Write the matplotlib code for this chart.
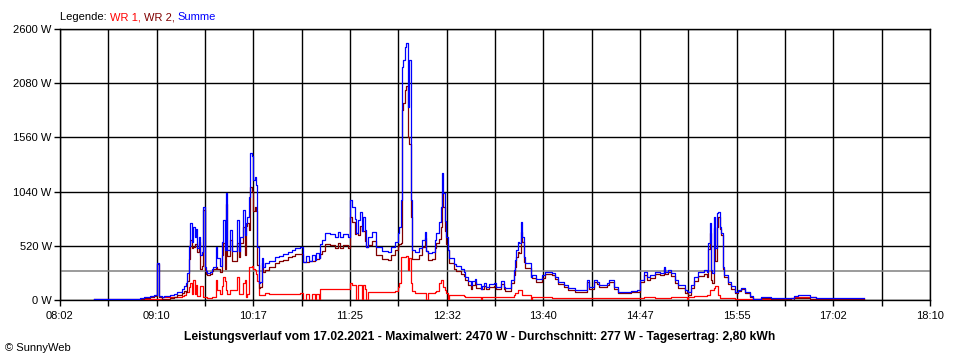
import matplotlib.pyplot as plt
import numpy as np

plt.rcParams['font.family'] = ['Liberation Sans', 'DejaVu Sans']

zeit = ['08:26', '08:40', '08:51', '08:58', '09:01', '09:05', '09:08', '09:10', '09:11', '09:13',
        '09:15', '09:19', '09:22', '09:24', '09:27', '09:29', '09:30', '09:31', '09:32', '09:33',
        '09:34', '09:35', '09:36', '09:37', '09:38', '09:39', '09:40', '09:41', '09:42', '09:43',
        '09:44', '09:45', '09:47', '09:48', '09:49', '09:51', '09:52', '09:54', '09:55', '09:56',
        '09:57', '09:58', '09:59',
        '10:01', '10:02', '10:06', '10:07', '10:08', '10:10', '10:11', '10:12', '10:13', '10:14',
        '10:15', '10:16', '10:17', '10:18', '10:19', '10:20', '10:21', '10:22', '10:23', '10:24',
        '10:25', '10:28', '10:32', '10:35', '10:38', '10:41', '10:44', '10:46', '10:50', '10:52',
        '10:54', '10:56', '10:58',
        '11:00', '11:01', '11:03', '11:04', '11:05', '11:07', '11:11', '11:14', '11:16', '11:18',
        '11:20', '11:23', '11:25', '11:26', '11:28', '11:29', '11:30', '11:32', '11:33', '11:34',
        '11:35', '11:36', '11:37', '11:40', '11:43', '11:47', '11:51', '11:53', '11:56', '11:58',
        '11:59',
        '12:00', '12:01', '12:02', '12:03', '12:04', '12:05', '12:06', '12:07', '12:08', '12:10',
        '12:13', '12:15', '12:17', '12:18', '12:19', '12:22', '12:24', '12:25', '12:27', '12:28',
        '12:29', '12:30', '12:31', '12:32', '12:33', '12:34', '12:37', '12:39', '12:42', '12:44',
        '12:45', '12:47', '12:49', '12:50', '12:52', '12:53', '12:56', '12:57', '12:58',
        '13:00', '13:02', '13:05', '13:07', '13:10', '13:12', '13:13', '13:17', '13:19', '13:20',
        '13:21', '13:22', '13:23', '13:24', '13:25', '13:26', '13:27', '13:31', '13:32', '13:35',
        '13:39', '13:41', '13:46', '13:48', '13:50', '13:54', '13:57',
        '14:02', '14:10', '14:12', '14:15', '14:17', '14:19', '14:24', '14:26', '14:29', '14:32',
        '14:41', '14:45', '14:47', '14:50', '14:52', '14:54', '14:58',
        '15:01', '15:04', '15:05', '15:07', '15:09', '15:12', '15:14', '15:19', '15:20', '15:21',
        '15:23', '15:25', '15:28', '15:32', '15:34', '15:35', '15:36', '15:37', '15:38', '15:39',
        '15:40', '15:41', '15:42', '15:43', '15:44', '15:45', '15:46', '15:49', '15:51', '15:54',
        '15:56', '15:58',
        '16:01', '16:04', '16:06', '16:12', '16:19', '16:33', '16:35', '16:38', '16:46', '16:50',
        '17:23', '17:24']

summe = [5, 5, 8, 15, 25, 35, 45, 355, 40, 30,
         35, 45, 60, 80, 110, 130, 160, 260, 520, 740,
         560, 700, 600, 680, 500, 600, 430, 460, 895, 320,
         280, 260, 270, 300, 320, 510, 400, 330, 560, 767,
         480, 1025, 480,
         672, 470, 767, 470, 607, 863, 620, 736, 800, 991,
         1407, 1380, 1150, 1180, 1100, 512, 160, 176, 400, 320,
         355, 370, 410, 425, 440, 463, 480, 497, 510, 365,
         420, 370, 430,
         380, 450, 400, 540, 575, 640, 630, 600, 650, 600,
         630, 600, 960, 895, 780, 640, 767, 847, 660, 800,
         672, 510, 605, 650, 512, 470, 460, 510, 560, 640,
         700,
         960, 2240, 2300, 2430, 2470, 1855, 2300, 960, 480, 460,
         500, 575, 655, 470, 448, 460, 580, 640, 750, 895,
         1215, 1025, 760, 600, 480, 400, 345, 330, 300, 270,
         224, 180, 140, 180, 200, 150, 110, 130, 160,
         128, 150, 160, 128, 180, 128, 112, 192, 288, 380,
         480, 560, 545, 750, 600, 410, 352, 224, 240, 200,
         240, 272, 256, 224, 176, 144, 112,
         100, 192, 128, 192, 176, 144, 160, 192, 128, 80,
         90, 96, 192, 272, 224, 240, 272,
         256, 320, 272, 288, 256, 192, 144, 96, 85, 80,
         144, 220, 272, 288, 272, 544, 736, 288, 260, 800,
         500, 832, 848, 700, 640, 320, 240, 176, 130, 80,
         96, 112,
         80, 35, 10, 26, 15, 20, 40, 48, 30, 15,
         15, 15]

wr1 = [0, 0, 0, 5, 5, 8, 10, 10, 10, 25,
       25, 25, 30, 30, 40, 45, 80, 80, 128, 160,
       60, 190, 60, 140, 40, 40, 130, 130, 32, 32,
       30, 20, 20, 25, 25, 190, 100, 60, 130, 224,
       180, 100, 60,
       100, 100, 224, 60, 60, 160, 190, 30, 60, 320,
       320, 330, 300, 290, 250, 180, 48, 48, 48, 48,
       64, 55, 55, 55, 55, 55, 55, 55, 70, 0,
       55, 0, 55,
       0, 55, 0, 103, 103, 103, 103, 103, 103, 103,
       103, 103, 160, 145, 145, 0, 145, 140, 0, 140,
       110, 0, 80, 80, 80, 80, 80, 80, 85, 120,
       160,
       415, 415, 410, 415, 420, 288, 400, 160, 85, 64,
       64, 64, 64, 0, 64, 70, 80, 90, 160, 192,
       192, 128, 100, 64, 0, 48, 48, 48, 48, 40,
       32, 32, 32, 32, 32, 32, 5, 25, 25,
       25, 25, 25, 25, 25, 25, 30, 30, 50, 64,
       64, 96, 96, 96, 45, 45, 45, 0, 26, 26,
       26, 26, 20, 20, 20, 20, 20,
       20, 20, 20, 20, 20, 20, 20, 20, 20, 15,
       15, 15, 15, 30, 30, 30, 20,
       20, 20, 20, 20, 30, 30, 30, 30, 5, 30,
       30, 40, 40, 40, 50, 50, 96, 96, 96, 112,
       130, 130, 50, 20, 20, 20, 20, 20, 20, 10,
       10, 10,
       10, 10, 5, 5, 5, 20, 25, 25, 25, 5,
       5, 5]

wr2 = [5, 5, 8, 10, 20, 27, 35, 345, 30, 5,
       10, 20, 30, 50, 70, 85, 80, 180, 392, 580,
       500, 510, 540, 540, 460, 560, 300, 330, 863, 288,
       250, 240, 250, 275, 295, 320, 300, 270, 430, 543,
       300, 925, 420,
       572, 370, 543, 410, 547, 703, 430, 706, 740, 671,
       1087, 1050, 850, 890, 850, 332, 112, 128, 352, 272,
       291, 315, 355, 370, 385, 408, 425, 442, 440, 365,
       365, 370, 375,
       380, 395, 400, 437, 472, 537, 527, 497, 547, 497,
       527, 497, 800, 750, 635, 640, 622, 707, 660, 660,
       562, 510, 525, 570, 432, 390, 380, 430, 475, 520,
       540,
       545, 1825, 1890, 2015, 2050, 1567, 1500, 800, 395, 396,
       436, 511, 591, 470, 384, 390, 500, 550, 590, 703,
       1023, 897, 660, 536, 480, 352, 297, 282, 252, 230,
       192, 148, 108, 148, 168, 118, 105, 105, 135,
       103, 125, 135, 103, 155, 103, 82, 162, 238, 316,
       416, 464, 449, 654, 555, 365, 307, 224, 214, 174,
       214, 246, 236, 204, 156, 124, 92,
       80, 172, 108, 172, 156, 124, 140, 172, 108, 65,
       75, 81, 177, 242, 194, 210, 252,
       236, 300, 252, 268, 226, 162, 114, 66, 80, 50,
       114, 180, 232, 248, 222, 494, 640, 192, 164, 688,
       370, 702, 798, 680, 620, 300, 220, 156, 110, 70,
       86, 102,
       70, 25, 5, 21, 10, 0, 15, 23, 5, 10,
       10, 10]

x_labels = ['08:02', '09:10', '10:17', '11:25', '12:32', '13:40', '14:47', '15:55', '17:02', '18:10']
y_ticks = [0, 520, 1040, 1560, 2080, 2600]
durchschnitt = 277


def minuten(t):
    h, m = t.split(':')
    return int(h) * 60 + int(m)


t = np.array([minuten(z) for z in zeit])
t0, t1 = minuten(x_labels[0]), minuten(x_labels[-1])

fig = plt.figure(figsize=(9.6, 3.6), dpi=100)
ax = fig.add_axes([60 / 960, 60 / 360, 870 / 960, 271 / 360])

ax.axhline(durchschnitt, color='#808080', lw=1.1, zorder=2)
ax.plot(t, wr1, drawstyle='steps-post', color='#ff0000', lw=0.9, zorder=3)
ax.plot(t, wr2, drawstyle='steps-post', color='#800000', lw=0.9, zorder=4)
ax.plot(t, summe, drawstyle='steps-post', color='#0000ff', lw=0.9, zorder=5)

ax.set_xlim(t0, t1)
ax.set_ylim(0, 2600)

xt = np.linspace(t0, t1, 19)
ax.set_xticks(xt)
ax.set_xticklabels([x_labels[i // 2] if i % 2 == 0 else '' for i in range(19)])
ax.set_yticks(y_ticks)
ax.set_yticklabels([f'{v} W' for v in y_ticks])
ax.grid(True, color='black', lw=1.0)
ax.set_axisbelow(True)
ax.tick_params(axis='x', direction='out', length=4, width=1.0, labelsize=8, pad=4, colors='black')
ax.tick_params(axis='y', direction='out', length=4, width=1.0, labelsize=8, pad=2, colors='black')
for s in ax.spines.values():
    s.set_color('black')
    s.set_linewidth(1.0)

# Legende oben links, mehrfarbig
txt = fig.text(60 / 960, 1 - 17 / 360, 'Legende: ', fontsize=8, va='center', ha='left')
for wort, farbe in [('WR 1, ', '#ff0000'), ('WR 2, ', '#800000'), ('Summe', '#0000ff')]:
    txt = ax.annotate(wort, xycoords=txt, xy=(1, 0), va='bottom', fontsize=8, color=farbe,
                      annotation_clip=False)

fig.text(0.5, 1 - 337 / 360,
         'Leistungsverlauf vom 17.02.2021 - Maximalwert: 2470 W - Durchschnitt: 277 W - Tagesertrag: 2,80 kWh',
         fontsize=8.7, fontweight='bold', ha='center', va='center')
fig.text(5 / 960, 1 - 348 / 360, '© SunnyWeb', fontsize=8, ha='left', va='center')

fig.savefig('out.png', dpi=100)
